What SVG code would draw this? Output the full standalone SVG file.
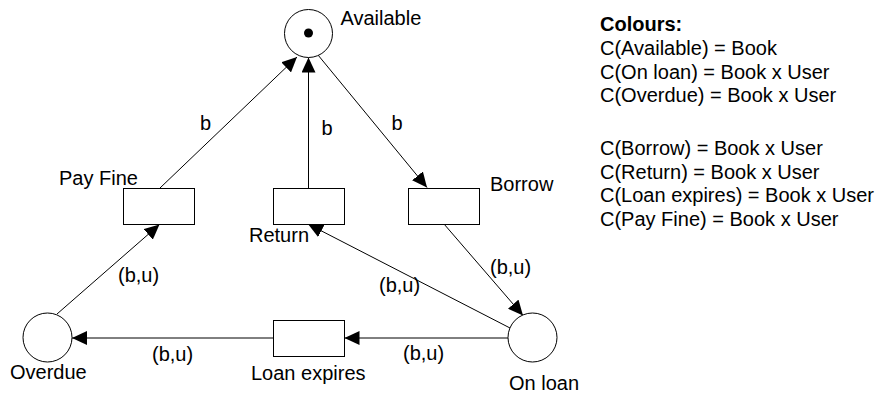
<svg xmlns="http://www.w3.org/2000/svg" width="880" height="395" viewBox="0 0 880 395">
  <style>
    text { font-family: "Liberation Sans", Arial, Helvetica, sans-serif; font-size: 20px; fill: #000; }
    .bold { font-weight: bold; }
    .place { fill: #fff; stroke: #000; stroke-width: 1; }
    .trans { fill: #fff; stroke: #000; stroke-width: 1; }
    .arc { stroke: #000; stroke-width: 1; fill: none; marker-end: url(#head); }
  </style>
  <defs>
    <marker id="head" markerUnits="userSpaceOnUse" markerWidth="15" markerHeight="14" refX="15" refY="7" orient="auto">
      <path d="M0,0 L15,7 L0,14 z" fill="#000"/>
    </marker>
  </defs>

  <rect width="880" height="395" fill="#fff"/>

  <!-- arcs -->
  <g id="connectors">
    <line class="arc" x1="160" y1="188" x2="297" y2="57"/>
    <line class="arc" x1="308.5" y1="188" x2="308.5" y2="57.5"/>
    <line class="arc" x1="318" y1="55" x2="427" y2="187.5"/>
    <line class="arc" x1="444" y1="224" x2="523" y2="315.5"/>
    <line class="arc" x1="510" y1="328" x2="308" y2="224"/>
    <line class="arc" x1="508" y1="338" x2="344.5" y2="338"/>
    <line class="arc" x1="273.5" y1="338" x2="72" y2="338"/>
    <line class="arc" x1="57" y1="314" x2="159.5" y2="224.5"/>
    <text x="200" y="130">b</text>
    <text x="321.5" y="135">b</text>
    <text x="391.5" y="130">b</text>
    <text x="490" y="274">(b,u)</text>
    <text x="379" y="292">(b,u)</text>
    <text x="118" y="282">(b,u)</text>
    <text x="403" y="360">(b,u)</text>
    <text x="152" y="361">(b,u)</text>
  </g>

  <!-- places -->
  <g id="available">
    <circle class="place" cx="308.5" cy="33.5" r="24"/>
    <circle cx="308.5" cy="33" r="4.5" fill="#000"/>
    <text x="340.5" y="25">Available</text>
  </g>
  <g id="on-loan">
    <circle class="place" cx="532.5" cy="337.5" r="24.5"/>
    <text x="509" y="390">On loan</text>
  </g>
  <g id="overdue">
    <circle class="place" cx="47.5" cy="337.5" r="24.5"/>
    <text x="10" y="379">Overdue</text>
  </g>

  <!-- transitions -->
  <g id="pay-fine">
    <rect class="trans" x="123.5" y="188.5" width="71" height="36"/>
    <text x="59" y="185">Pay Fine</text>
  </g>
  <g id="return">
    <rect class="trans" x="273.5" y="188.5" width="71" height="36"/>
    <text x="249" y="242">Return</text>
  </g>
  <g id="borrow">
    <rect class="trans" x="408.5" y="188.5" width="71" height="36"/>
    <text x="490" y="191">Borrow</text>
  </g>
  <g id="loan-expires">
    <rect class="trans" x="273.5" y="320.5" width="71" height="36"/>
    <text x="251" y="380">Loan expires</text>
  </g>

  <!-- colour set declarations -->
  <g id="colour-sets">
    <text class="bold" x="600" y="31">Colours:</text>
    <text x="600" y="55">C(Available) = Book</text>
    <text x="600" y="78.5">C(On loan) = Book x User</text>
    <text x="600" y="102">C(Overdue) = Book x User</text>
    <text x="600" y="155">C(Borrow) = Book x User</text>
    <text x="600" y="178.5">C(Return) = Book x User</text>
    <text x="600" y="202">C(Loan expires) = Book x User</text>
    <text x="600" y="225.5">C(Pay Fine) = Book x User</text>
  </g>
</svg>
